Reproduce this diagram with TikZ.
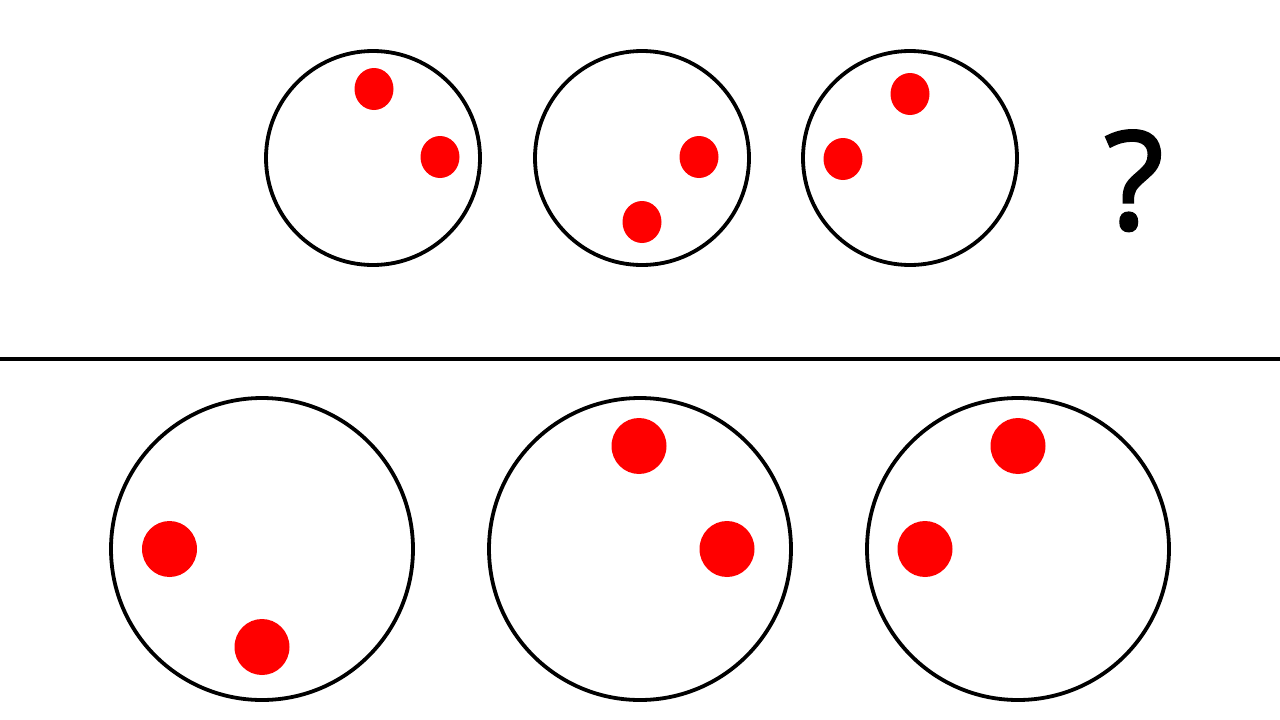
\documentclass[tikz,border=0pt]{standalone}
\usepackage{fontspec}
\newfontfamily\qfont{Open Sans}[FakeBold=2.2]
\begin{document}
\begin{tikzpicture}[x=1pt,y=-1pt,
  ring/.style={draw=black,line width=3.8pt,fill=none},
]
\useasboundingbox (0,0) rectangle (1280,720);
% top row
\draw[ring] (373,158) circle [radius=107];
\draw[ring] (642,158) circle [radius=107];
\draw[ring] (910,158) circle [radius=107];
\fill[red] (374,89) ellipse [x radius=19.5, y radius=21];
\fill[red] (440,157) ellipse [x radius=19.5, y radius=21];
\fill[red] (699,157) ellipse [x radius=19.5, y radius=21];
\fill[red] (642,222) ellipse [x radius=19.5, y radius=21];
\fill[red] (910,94) ellipse [x radius=19.5, y radius=21];
\fill[red] (843,159) ellipse [x radius=19.5, y radius=21];
\node[anchor=base,inner sep=0pt,font=\qfont\fontsize{136}{140}\selectfont] (q) at (1134,229) {?};
% divider
\draw[line width=4.5pt] (0,359) -- (1280,359);
% bottom row
\draw[ring] (262,549) circle [radius=151];
\draw[ring] (640,549) circle [radius=151];
\draw[ring] (1018,549) circle [radius=151];
\fill[red] (169.5,549) ellipse [x radius=27.5, y radius=28];
\fill[red] (262,647) ellipse [x radius=27.5, y radius=28];
\fill[red] (639,446) ellipse [x radius=27.5, y radius=28];
\fill[red] (727,549) ellipse [x radius=27.5, y radius=28];
\fill[red] (1018,446) ellipse [x radius=27.5, y radius=28];
\fill[red] (925,549) ellipse [x radius=27.5, y radius=28];
\end{tikzpicture}
\end{document}
